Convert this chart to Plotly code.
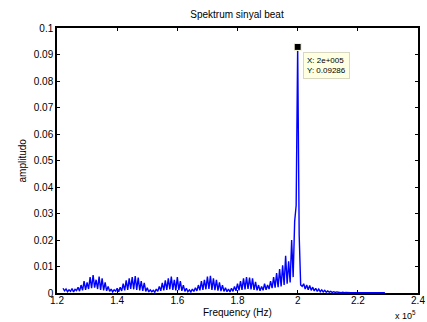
import plotly.graph_objects as go

# Frequency axis (Hz) from 122 kHz to 229 kHz, 500 Hz step
f_start = 122000
f_step = 500
amplitude = [
    0.0018, 0.0008, 0.0015, 0.0005, 0.0012, 0.0006, 0.0017, 0.0004, 0.0014, 0.0009,
    0.0022, 0.0007, 0.0030, 0.0010, 0.0045, 0.0012, 0.0040, 0.0015, 0.0060, 0.0018,
    0.0068, 0.0020, 0.0050, 0.0015, 0.0062, 0.0012, 0.0055, 0.0010, 0.0040, 0.0008,
    0.0025, 0.0006, 0.0015, 0.0004, 0.0012, 0.0007, 0.0018, 0.0005, 0.0022, 0.0008,
    0.0035, 0.0010, 0.0048, 0.0012, 0.0055, 0.0015, 0.0060, 0.0014, 0.0064, 0.0012,
    0.0058, 0.0010, 0.0045, 0.0008, 0.0038, 0.0006, 0.0020, 0.0004, 0.0012, 0.0005,
    0.0010, 0.0003, 0.0015, 0.0006, 0.0025, 0.0008, 0.0038, 0.0010, 0.0048, 0.0012,
    0.0055, 0.0014, 0.0062, 0.0012, 0.0050, 0.0010, 0.0060, 0.0011, 0.0045, 0.0008,
    0.0030, 0.0006, 0.0018, 0.0005, 0.0012, 0.0004, 0.0015, 0.0006, 0.0020, 0.0008,
    0.0030, 0.0010, 0.0045, 0.0012, 0.0050, 0.0014, 0.0062, 0.0015, 0.0065, 0.0012,
    0.0055, 0.0011, 0.0050, 0.0009, 0.0040, 0.0007, 0.0030, 0.0006, 0.0020, 0.0005,
    0.0015, 0.0004, 0.0018, 0.0006, 0.0025, 0.0008, 0.0035, 0.0010, 0.0045, 0.0012,
    0.0055, 0.0014, 0.0060, 0.0015, 0.0058, 0.0014, 0.0055, 0.0012, 0.0042, 0.0010,
    0.0030, 0.0008, 0.0025, 0.0010, 0.0035, 0.0012, 0.0030, 0.0015, 0.0045, 0.0018,
    0.0060, 0.0020, 0.0075, 0.0022, 0.0090, 0.0025, 0.0105, 0.0030, 0.0140, 0.0035,
    0.0120, 0.0040, 0.0200, 0.0060, 0.0270, 0.0330, 0.09286, 0.0220, 0.0030, 0.0025,
    0.0035, 0.0015, 0.0030, 0.0012, 0.0028, 0.0010, 0.0022, 0.0008, 0.0018, 0.0006,
    0.0015, 0.0005, 0.0012, 0.0004, 0.0010, 0.0003, 0.0008, 0.0003, 0.0006, 0.0002,
    0.0005, 0.0002, 0.0004, 0.0002, 0.0003, 0.0001, 0.0003, 0.0001, 0.0002, 0.0001,
    0.0002, 0.0001, 0.0001, 0.0001, 0.0001, 0.0001, 0.0001, 0.0001, 0.0001, 0.0001,
    0.0001, 0.0001, 0.0001, 0.0001, 0.0001, 0.0001, 0.0001, 0.0001, 0.0001, 0.0001,
    0.0001, 0.0001, 0.0001, 0.0001, 0.0001,
]
frequency = [f_start + i * f_step for i in range(len(amplitude))]

x_tickvals = [120000, 140000, 160000, 180000, 200000, 220000, 240000]
x_ticktext = ["1.2", "1.4", "1.6", "1.8", "2", "2.2", "2.4"]
y_tickvals = [0, 0.01, 0.02, 0.03, 0.04, 0.05, 0.06, 0.07, 0.08, 0.09, 0.1]
y_ticktext = ["0", "0.01", "0.02", "0.03", "0.04", "0.05", "0.06", "0.07", "0.08", "0.09", "0.1"]

tip_x = 200000
tip_y = 0.09286

FONT = "Liberation Sans, Arial, sans-serif"

fig = go.Figure()
fig.add_trace(go.Scatter(x=frequency, y=amplitude, mode="lines",
                         line=dict(color="#0000ff", width=1.4), showlegend=False))
fig.add_trace(go.Scatter(x=[tip_x], y=[tip_y], mode="markers",
                         marker=dict(symbol="square", size=7, color="black",
                                     line=dict(color="#ffffe1", width=1)),
                         showlegend=False))

axis_common = dict(showline=True, linecolor="black", linewidth=1.5, mirror="ticks",
                   ticks="inside", ticklen=3, tickcolor="black", tickwidth=1,
                   showgrid=False, zeroline=False, automargin=False,
                   tickfont=dict(family=FONT, size=10, color="black"))

fig.update_xaxes(range=[120000, 240000], tickvals=x_tickvals, ticktext=x_ticktext,
                 ticklabelstandoff=-3, **axis_common)
fig.update_yaxes(range=[0, 0.1], tickvals=y_tickvals, ticktext=y_ticktext, **axis_common)

fig.add_annotation(x=tip_x, y=tip_y, xref="x", yref="y",
                   text="X: 2e+005<br>Y: 0.09286", showarrow=False,
                   xanchor="left", yanchor="top", xshift=5, yshift=-5, align="left",
                   font=dict(family=FONT, size=8, color="black"),
                   bgcolor="#ffffe1", bordercolor="#d8d8c0", borderwidth=1, borderpad=3)

fig.add_annotation(text="Frequency (Hz)", xref="paper", yref="paper", x=0.5, y=-19 / 265,
                   xanchor="center", yanchor="middle", showarrow=False,
                   font=dict(family=FONT, size=10, color="black"))
fig.add_annotation(text="amplitudo", xref="paper", yref="paper", x=-35 / 361, y=0.5,
                   xanchor="center", yanchor="middle", textangle=-90, showarrow=False,
                   font=dict(family=FONT, size=10, color="black"))
fig.add_annotation(text="x 10<sup>5</sup>", xref="paper", yref="paper", x=1.0, y=-22 / 265,
                   xanchor="right", yanchor="middle", showarrow=False,
                   font=dict(family=FONT, size=9, color="black"))

fig.update_layout(
    width=427, height=322,
    margin=dict(l=57, r=9, t=28, b=29),
    paper_bgcolor="white", plot_bgcolor="white",
    title=dict(text="Spektrum sinyal beat", x=237 / 427, xanchor="center",
               y=1 - 14 / 322, yanchor="middle", yref="container",
               font=dict(family=FONT, size=10, color="black")),
)

fig.write_html("out.html")
